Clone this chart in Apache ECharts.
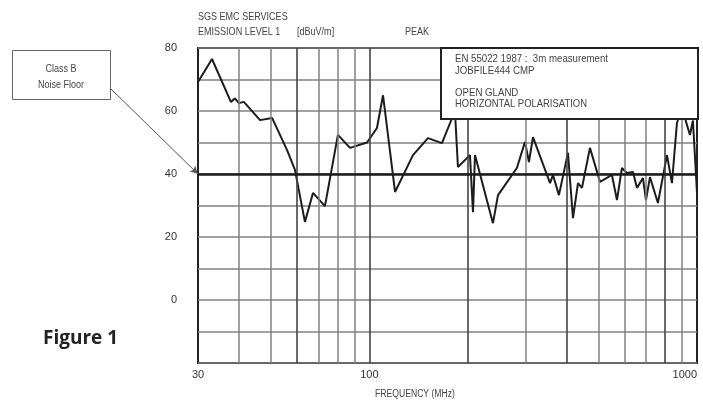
<!DOCTYPE html>
<html><head><meta charset="utf-8">
<script src="https://cdn.jsdelivr.net/npm/echarts@6/dist/echarts.min.js"></script>
<style>html,body{margin:0;padding:0;background:#fff}#c{width:703px;height:401px}</style>
</head><body><div id="c"></div>
<script>
// Frequency (MHz) of each point of the measured curve
var freqs = [30, 33.1, 37.8, 38.9, 40.0, 41.4, 46.4, 50.5, 56.1, 59.3, 63.6, 67.3, 73.2, 80.2, 87.3, 98.4,
  105.5, 110.1, 119.8, 135.9, 151, 166.6, 182.5, 186.4, 202.8, 207.2, 210.1, 238.4, 247, 282, 298.6,
  307, 315.8, 356, 363.5, 379, 403.8, 418.3, 433.3, 445.6, 471.3, 505.8, 550, 569.8, 590, 611, 637.8,
  655.9, 684, 698.7, 718.6, 759.9, 809.8, 838.6, 868.5, 899.7, 951.6, 971.8, 1000];
// Emission level (dBuV/m)
var levels = [69.2, 76.5, 62.9, 64.0, 62.5, 62.9, 57.1, 57.8, 47.6, 41.3, 24.8, 34.0, 29.8, 52.4, 48.3, 50.0,
  54.6, 65.0, 34.3, 46.0, 51.4, 49.8, 60.0, 42.2, 46.0, 27.9, 46.0, 24.4, 33.3, 41.9, 50.2,
  43.8, 51.7, 37.1, 39.7, 33.3, 46.7, 26.0, 37.1, 35.6, 48.3, 37.5, 39.7, 31.7, 41.9, 40.3, 40.6,
  35.6, 38.7, 31.7, 39.0, 30.8, 46.0, 37.1, 56.2, 61.0, 52.4, 57.0, 34.0];
// Class B noise floor level
var noiseFloor = 40;
// Vertical grid lines (MHz)
var gridFreqsMinor = [40, 50, 70, 80, 90, 300, 500, 600, 700, 900];
var gridFreqsMajor = [60, 100, 200, 400, 800];
// Tick labels
var xTickLabels = [30, 100, 1000];
var yTickLabels = [0, 20, 40, 60, 80];
var titleLines = ['SGS EMC SERVICES', 'EMISSION LEVEL 1', '[dBuV/m]'];
var modeLabel = 'PEAK';
var xAxisTitle = 'FREQUENCY (MHz)';
var infoLines = ['EN 55022 1987 :  3m measurement', 'JOBFILE444 CMP', 'OPEN GLAND', 'HORIZONTAL POLARISATION'];
var calloutLines = ['Class B', 'Noise Floor'];
var figureLabel = 'Figure 1';

var sans = '"Liberation Sans",Arial,sans-serif';
var chart = echarts.init(document.getElementById('c'), null, {renderer: 'canvas'});
var curve = freqs.map(function (f, i) { return [f, levels[i]]; });

function smallText(str, x, y, opts) {
  opts = opts || {};
  return {
    type: 'text', x: x, y: y, scaleX: opts.sx || 0.86, z: opts.z || 21,
    style: {text: str, fontSize: opts.fs || 10.5, lineHeight: opts.lh || 12, fill: '#444', fontFamily: sans,
      align: opts.align || 'left', verticalAlign: 'top'}
  };
}

chart.setOption({
  animation: false,
  backgroundColor: '#fff',
  grid: {left: 198, right: 6, top: 48, bottom: 38, show: true, borderColor: '#222', borderWidth: 2, backgroundColor: 'transparent'},
  xAxis: {
    type: 'log', logBase: 10, min: 30, max: 1000,
    axisLine: {show: false}, axisTick: {show: false}, splitLine: {show: false},
    axisLabel: {
      color: '#333', fontSize: 11, fontFamily: sans, margin: 6,
      alignMaxLabel: 'right', showMinLabel: true, showMaxLabel: true,
      formatter: function (v) { var r = Math.round(v); return xTickLabels.indexOf(r) >= 0 ? String(r) : ''; }
    }
  },
  yAxis: {
    type: 'value', min: -20, max: 80, interval: 10,
    axisLine: {show: false}, axisTick: {show: false},
    splitLine: {show: true, lineStyle: {color: '#808080', width: 1.5}},
    axisLabel: {
      color: '#333', fontSize: 11, fontFamily: sans, margin: 21,
      formatter: function (v) { return yTickLabels.indexOf(v) >= 0 ? String(v) : ''; }
    }
  },
  series: [
    {
      type: 'line', data: [], z: 1, silent: true,
      markLine: {
        silent: true, symbol: 'none', animation: false, label: {show: false},
        data: gridFreqsMinor.map(function (f) { return {xAxis: f, lineStyle: {color: '#808080', width: 1.5, type: 'solid'}}; })
          .concat(gridFreqsMajor.map(function (f) { return {xAxis: f, lineStyle: {color: '#444', width: 1.6, type: 'solid'}}; }))
          .concat([{yAxis: noiseFloor, lineStyle: {color: '#1a1a1a', width: 2.5, type: 'solid'}}])
      }
    },
    {
      type: 'line', data: curve, z: 3, showSymbol: false, symbol: 'none',
      lineStyle: {color: '#1c1c1c', width: 2}
    },
    {
      type: 'line', data: [], z: 4, silent: true,
      markLine: {
        silent: true, animation: false, label: {show: false},
        symbol: ['none', 'arrow'], symbolSize: [6, 8],
        lineStyle: {color: '#555', width: 1, type: 'solid'},
        data: [[{x: 110, y: 88}, {coord: [30, noiseFloor]}]]
      }
    }
  ],
  graphic: [
    smallText(titleLines[0], 198, 11),
    smallText(titleLines[1], 198, 26),
    smallText(titleLines[2], 297, 26),
    smallText(modeLabel, 405, 26),
    {type: 'rect', left: 440, top: 47, z: 20, shape: {width: 257, height: 71}, style: {fill: '#fff', stroke: '#222', lineWidth: 2}},
    smallText(infoLines[0], 455, 53, {sx: 0.92}),
    smallText(infoLines[1], 455, 65, {sx: 0.92}),
    smallText(infoLines[2], 455, 87, {sx: 0.92}),
    smallText(infoLines[3], 455, 98, {sx: 0.9}),
    {type: 'rect', left: 12, top: 50, z: 20, shape: {width: 98, height: 49}, style: {fill: '#fff', stroke: '#666', lineWidth: 1}},
    {type: 'text', x: 61, y: 61, z: 21, scaleX: 0.9,
      style: {text: calloutLines.join('\n'), fontSize: 10, lineHeight: 16, fill: '#444', fontFamily: sans, align: 'center', verticalAlign: 'top'}},
    smallText(xAxisTitle, 415, 388, {fs: 10, align: 'center'}),
    {type: 'text', left: 43, top: 329, z: 21, style: {text: figureLabel, fontSize: 19, fontWeight: 'bold', fill: '#222', fontFamily: '"Open Sans",sans-serif'}}
  ]
});
</script></body></html>
